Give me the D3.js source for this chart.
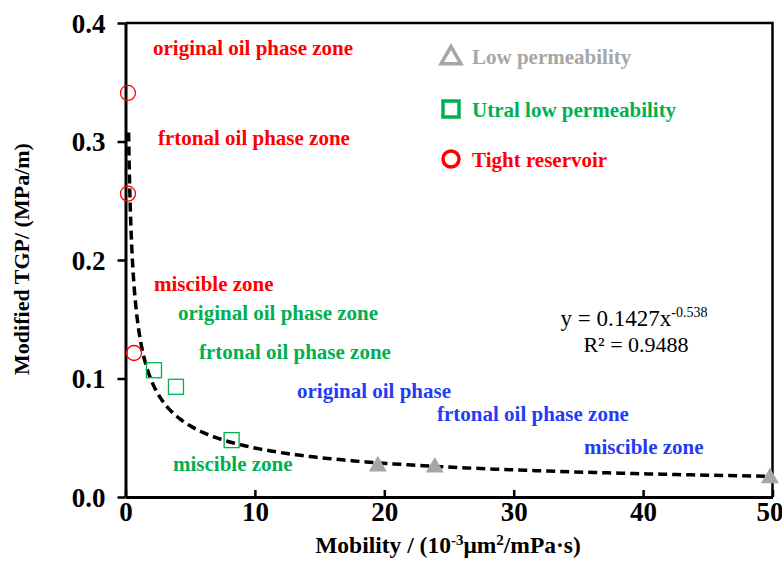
<!DOCTYPE html>
<html><head><meta charset="utf-8">
<script src="https://cdn.jsdelivr.net/npm/d3@7/dist/d3.min.js"></script>
<style>body{margin:0;background:#fff}svg{display:block}text{font-family:"Liberation Serif","Times New Roman",serif}</style>
</head><body>
<svg id="c" width="782" height="581"></svg>
<script>
// Data
const tightX = [0.19, 0.19, 0.66];
const tightY = [0.341, 0.256, 0.1215];
const ultraX = [2.2, 3.9, 8.2];
const ultraY = [0.107, 0.093, 0.048];
const lowX = [19.5, 23.9, 49.8];
const lowY = [0.026, 0.025, 0.016];
const fitA = 0.1427, fitB = -0.538, fitXStart = 0.24, fitXEnd = 50;
const xTicks = [0, 10, 20, 30, 40, 50];
const yTicks = [0.0, 0.1, 0.2, 0.3, 0.4];
const legendLabels = ["Low permeability", "Utral low permeability", "Tight reservoir"];
const zoneLabels = [
  {t:"original oil phase zone", x:153, y:0.3795, c:"red"},
  {t:"frtonal oil phase zone", x:158, y:0.303, c:"red"},
  {t:"miscible zone", x:154, y:0.1797, c:"red"},
  {t:"original oil phase zone", x:178, y:0.1555, c:"green"},
  {t:"frtonal oil phase zone", x:199, y:0.1225, c:"green"},
  {t:"miscible zone", x:173, y:0.028, c:"green"},
  {t:"original oil phase", x:297, y:0.090, c:"blue"},
  {t:"frtonal oil phase zone", x:437, y:0.0703, c:"blue"},
  {t:"miscible zone", x:584, y:0.0425, c:"blue"}
];
const colors = {red:"#ff0000", green:"#00b050", blue:"#1f3df5", gray:"#a6a6a6"};

const svg = d3.select("#c");
const L=125.5, R=772.5, T=23, B=497;
const x = d3.scaleLinear().domain([0,50]).range([L,R]);
const y = d3.scaleLinear().domain([0,0.4]).range([B,T]);

// frame
svg.append("path").attr("d",`M${L},${T}H${R}V${B}`).attr("fill","none").attr("stroke","#000").attr("stroke-width",2.5);

// axes
const xAx = svg.append("g").attr("transform",`translate(0,${B})`)
  .call(d3.axisBottom(x).tickValues(xTicks).tickSizeInner(-7).tickSizeOuter(0).tickPadding(5).tickFormat(d3.format("d")));
const yAx = svg.append("g").attr("transform",`translate(${L},0)`)
  .call(d3.axisLeft(y).tickValues(yTicks).tickSizeInner(8).tickSizeOuter(0).tickPadding(12).tickFormat(d3.format(".1f")));
[xAx,yAx].forEach(g=>{
  g.select(".domain").attr("stroke","#000").attr("stroke-width",3);
  g.selectAll(".tick line").attr("stroke","#000").attr("stroke-width",2.5);
  g.selectAll(".tick text").attr("fill","#000").style("font-family","Liberation Serif").style("font-weight","bold").style("font-size","27px");
});
xAx.selectAll(".tick text").attr("dy","0.71em").attr("dx",d=>d===50?-3:0);
yAx.selectAll(".tick text").attr("dy","0.35em");

// fit curve
const fitXs = d3.range(0,201).map(i=>fitXStart*Math.pow(fitXEnd/fitXStart,i/200));
svg.append("path").datum(fitXs)
  .attr("d",d3.line().x(d=>x(d)).y(d=>y(fitA*Math.pow(d,fitB))))
  .attr("fill","none").attr("stroke","#000").attr("stroke-width",3.5).attr("stroke-dasharray","9,5");

// points
svg.selectAll(".tight").data(tightX.map((v,i)=>[v,tightY[i]])).enter().append("circle")
  .attr("cx",d=>x(d[0])).attr("cy",d=>y(d[1])).attr("r",7.5).attr("fill","none").attr("stroke",colors.red).attr("stroke-width",1.3);
svg.selectAll(".ultra").data(ultraX.map((v,i)=>[v,ultraY[i]])).enter().append("rect")
  .attr("x",d=>x(d[0])-7.5).attr("y",d=>y(d[1])-7.5).attr("width",15).attr("height",15).attr("fill","none").attr("stroke",colors.green).attr("stroke-width",1.3);
const tri = d3.symbol().type(d3.symbolTriangle).size(140);
svg.selectAll(".low").data(lowX.map((v,i)=>[v,lowY[i]])).enter().append("path")
  .attr("d",tri).attr("transform",d=>`translate(${x(d[0])},${y(d[1])})`).attr("fill",colors.gray);

// legend
const lg = svg.append("g");
lg.append("path").attr("d",d3.symbol().type(d3.symbolTriangle).size(170)).attr("transform","translate(451,58)")
  .attr("fill","none").attr("stroke",colors.gray).attr("stroke-width",3.5);
lg.append("rect").attr("x",443).attr("y",101).attr("width",16).attr("height",16).attr("fill","none").attr("stroke",colors.green).attr("stroke-width",3.5);
lg.append("circle").attr("cx",451).attr("cy",159).attr("r",8).attr("fill","none").attr("stroke",colors.red).attr("stroke-width",3.5);
const lgC=[colors.gray,colors.green,colors.red], lgY=[57,110,160];
legendLabels.forEach((t,i)=>{
  lg.append("text").attr("x",472).attr("y",lgY[i]).attr("dy","0.35em").attr("fill",lgC[i])
    .style("font-weight","bold").style("font-size","21px").text(t);
});

// zone labels
svg.selectAll(".zone").data(zoneLabels).enter().append("text")
  .attr("x",d=>d.x).attr("y",d=>y(d.y)).attr("dy","0.35em").attr("fill",d=>colors[d.c])
  .style("font-weight","bold").style("font-size","21px").text(d=>d.t);

// equation
const eq = svg.append("text").attr("x",634).attr("y",326).attr("text-anchor","middle").style("font-size","23px");
eq.append("tspan").text("y = 0.1427x");
eq.append("tspan").attr("dy",-9).style("font-size","14px").text("-0.538");
svg.append("text").attr("x",636).attr("y",352).attr("text-anchor","middle").style("font-size","22px").text("R² = 0.9488");

// axis titles
const xt = svg.append("text").attr("x",448).attr("y",553).attr("text-anchor","middle").style("font-weight","bold").style("font-size","23.5px");
xt.append("tspan").text("Mobility / (10");
xt.append("tspan").attr("dy",-8).style("font-size","15px").text("-3");
xt.append("tspan").attr("dy",8).text("μm");
xt.append("tspan").attr("dy",-8).style("font-size","15px").text("2");
xt.append("tspan").attr("dy",8).text("/mPa·s)");
svg.append("text").attr("transform","translate(21,259) rotate(-90)").attr("text-anchor","middle").attr("dy","0.35em")
  .style("font-weight","bold").style("font-size","22px").text("Modified TGP/ (MPa/m)");
</script>
</body></html>
